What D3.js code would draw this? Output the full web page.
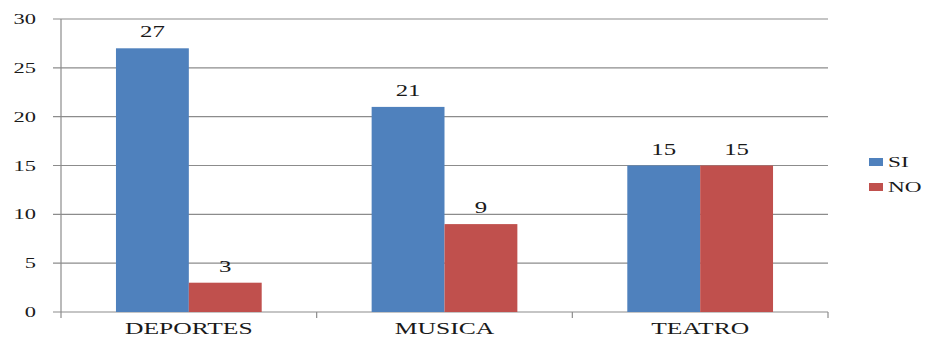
<!DOCTYPE html>
<html>
<head>
<meta charset="utf-8">
<script src="https://cdn.jsdelivr.net/npm/d3@7"></script>
<style>
  body { margin: 0; background: #fff; }
</style>
</head>
<body>
<script>
// chart data
const categories = ['DEPORTES', 'MUSICA', 'TEATRO'];
const seriesNames = ['SI', 'NO'];
const siValues = [27, 21, 15];
const noValues = [3, 9, 15];
const yTicks = [0, 5, 10, 15, 20, 25, 30];
const colors = ['#4F81BD', '#C0504D'];

// the original picture is stretched sideways, so the text is too
const stretch = 1.55;

const mTop = 19;
const mRight = 101;
const mBottom = 25;
const mLeft = 61;
const width = 929 - mLeft - mRight;
const height = 337 - mTop - mBottom;

const svg = d3.select('body')
    .append('svg')
    .attr('width', width + mLeft + mRight)
    .attr('height', height + mTop + mBottom);
const g = svg.append('g')
    .attr('transform', `translate(${mLeft},${mTop})`);

const x0 = d3.scaleBand()
    .domain(categories)
    .range([0, width])
    .paddingInner(0.43)
    .paddingOuter(0.215);
const x1 = d3.scaleBand()
    .domain(seriesNames)
    .range([0, x0.bandwidth()]);
const y = d3.scaleLinear()
    .domain([0, 30])
    .range([height, 0]);

// stretched text helper
function stext(sel, x, yy, anchor, size, str) {
    return sel.append('text')
        .attr('transform', `translate(${x},${yy}) scale(${stretch},1)`)
        .attr('text-anchor', anchor)
        .attr('font-family', "'Liberation Serif', 'Times New Roman', serif")
        .attr('font-size', size)
        .attr('fill', '#1a1a1a')
        .text(str);
}

// gridlines and y ticks
yTicks.forEach(t => {
    g.append('line')
        .attr('x1', -8).attr('x2', width)
        .attr('y1', y(t)).attr('y2', y(t))
        .attr('stroke', '#8c8c8c')
        .attr('stroke-width', 1.2);
    stext(g, -25, y(t) + 5, 'end', 14.5, t);
});

// y axis line
g.append('line')
    .attr('x1', 0).attr('x2', 0)
    .attr('y1', 0).attr('y2', height)
    .attr('stroke', '#8c8c8c')
    .attr('stroke-width', 1.2);

// category boundary ticks
d3.range(categories.length + 1).forEach(i => {
    const xx = i * x0.step();
    g.append('line')
        .attr('x1', xx).attr('x2', xx)
        .attr('y1', height).attr('y2', height + 6)
        .attr('stroke', '#8c8c8c')
        .attr('stroke-width', 1.2);
});

// bars
const rows = categories.map((c, i) => ({cat: c, vals: [siValues[i], noValues[i]]}));
const groups = g.selectAll('.grp')
    .data(rows)
    .enter().append('g')
    .attr('class', 'grp')
    .attr('transform', d => `translate(${x0(d.cat)},0)`);

groups.each(function(d) {
    const grp = d3.select(this);
    d.vals.forEach((v, j) => {
        const name = seriesNames[j];
        grp.append('rect')
            .attr('x', x1(name))
            .attr('y', y(v))
            .attr('width', x1.bandwidth())
            .attr('height', y(0) - y(v))
            .attr('fill', colors[j]);
        stext(grp, x1(name) + x1.bandwidth() / 2, y(v) - 11, 'middle', 16, v);
    });
    stext(grp, x0.bandwidth() / 2, height + 22, 'middle', 16.5, d.cat);
});

// legend
const legend = svg.append('g')
    .attr('transform', 'translate(869,158)');
seriesNames.forEach((name, j) => {
    legend.append('rect')
        .attr('x', 0)
        .attr('y', j * 25)
        .attr('width', 14)
        .attr('height', 8)
        .attr('fill', colors[j]);
    stext(legend, 19, j * 25 + 9, 'start', 15, name);
});
</script>
</body>
</html>
